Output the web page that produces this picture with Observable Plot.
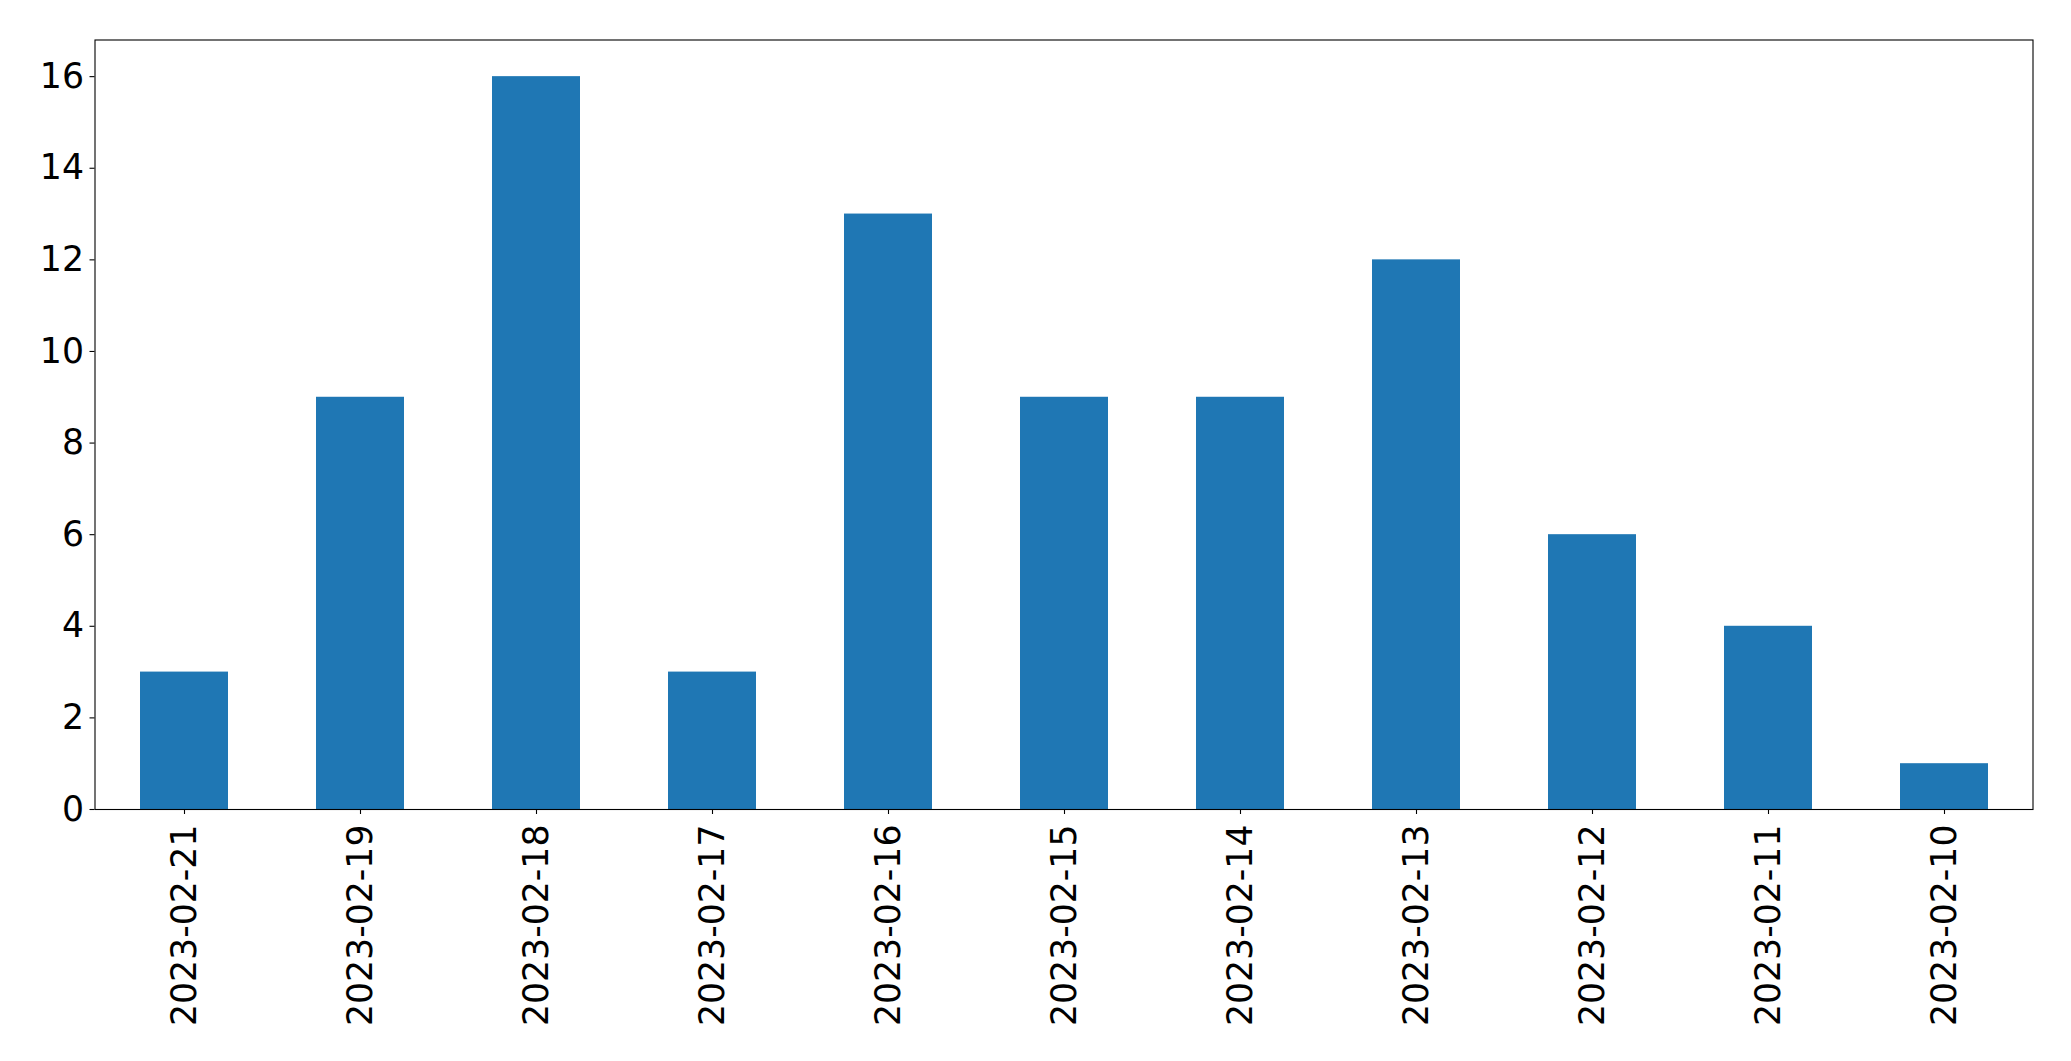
<!DOCTYPE html>
<html>
<head>
<meta charset="utf-8">
<script src="https://cdn.jsdelivr.net/npm/d3@7"></script>
<script src="https://cdn.jsdelivr.net/npm/@observablehq/plot@0.6"></script>
<style>
  html, body { margin: 0; padding: 0; background: #fff; overflow: hidden; }
</style>
</head>
<body>
<div id="chart"></div>
<script>
const dates = ["2023-02-21","2023-02-19","2023-02-18","2023-02-17","2023-02-16","2023-02-15","2023-02-14","2023-02-13","2023-02-12","2023-02-11","2023-02-10"];
const counts = [3, 9, 16, 3, 13, 9, 9, 12, 6, 4, 1];
const yTicks = [0, 2, 4, 6, 8, 10, 12, 14, 16];

const data = dates.map((d, i) => ({date: d, count: counts[i]}));

const chart = Plot.plot({
  width: 2071,
  height: 1061,
  marginLeft: 94.5,
  marginRight: 38.5,
  marginTop: 39.5,
  marginBottom: 252,
  style: {fontFamily: "DejaVu Sans", fontSize: "34.7px", color: "#000", background: "#fff"},
  x: {type: "band", domain: dates, paddingInner: 0.5, paddingOuter: 0.25, align: 0.5},
  y: {domain: [0, 16.8]},
  marks: [
    Plot.barY(data, {x: "date", y: "count", fill: "#1f77b4"}),
    Plot.frame({stroke: "#000", strokeWidth: 1.1}),
    Plot.axisY({ticks: yTicks, tickSize: 5, tickPadding: 6, fontSize: 34.7, label: null, strokeWidth: 1.1}),
    Plot.axisX({tickRotate: -90, tickSize: 5, tickPadding: 10, fontSize: 34.7, label: null, strokeWidth: 1.1})
  ]
});
document.getElementById("chart").appendChild(chart);
</script>
</body>
</html>
